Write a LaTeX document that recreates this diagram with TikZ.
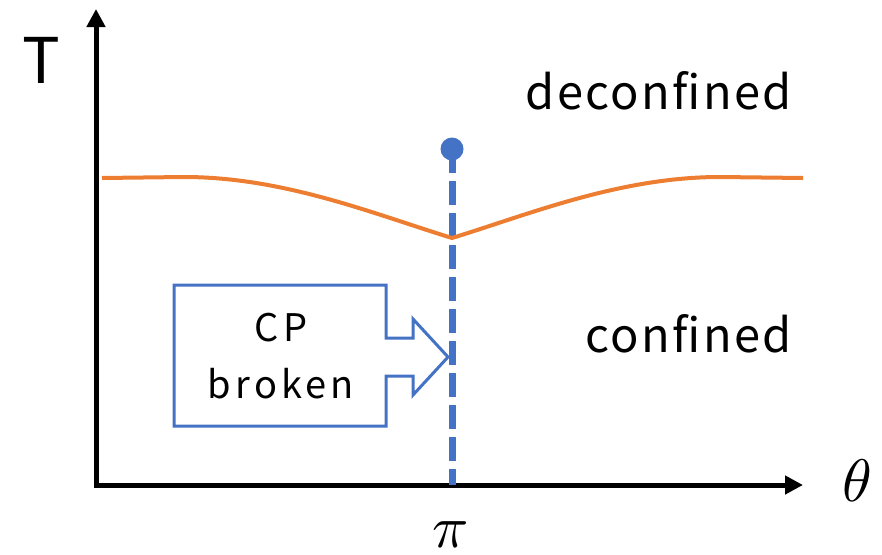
\documentclass[tikz,border=0pt]{standalone}
\usepackage{unicode-math}
\setmainfont{Noto Sans CJK JP}
\setmathfont{Latin Modern Math}
\newfontfamily\lblfont[LetterSpace=5]{Noto Sans CJK JP}
\newfontfamily\boxfont[LetterSpace=11]{Noto Sans CJK JP}
\usetikzlibrary{arrows.meta}
\definecolor{cblue}{HTML}{4472C4}
\definecolor{corange}{HTML}{ED7D31}
\tikzset{
  axis/.style={line width=5pt, line join=miter, {Triangle[width=18pt,length=18pt]}-{Triangle[width=18pt,length=18pt]}},
  critline/.style={cblue, line width=7pt, dash pattern=on 24pt off 8pt},
  phaseline/.style={corange, line width=4pt, line join=round},
  callout/.style={cblue, line width=3pt, line join=miter, fill=white},
  lbl/.style={inner sep=0pt, font=\lblfont\fontsize{47}{50}\selectfont},
  mathlbl/.style={inner sep=0pt, font=\fontsize{60}{60}\selectfont},
}
\begin{document}
\begin{tikzpicture}[x=1pt,y=-1pt]
\useasboundingbox (0,0) rectangle (882,554);
% axes
\coordinate (ytop) at (96,9);
\coordinate (origin) at (96,485);
\coordinate (xend) at (803,485);
\draw[axis] (ytop) -- (origin) -- (xend);
% critical line
\coordinate (cp) at (452,149);
\coordinate (pibase) at (452,485);
\draw[critline] (cp) -- (pibase);
\fill[cblue] (cp) circle (11.5pt);
% phase boundary
\coordinate (l0) at (102,178);
\coordinate (l1) at (184,177);
\coordinate (cusp) at (452,238);
\coordinate (r1) at (720,177);
\coordinate (r0) at (803,178);
\draw[phaseline] (l0) -- (l1) .. controls (284,177) and (374,214) .. (cusp)
  .. controls (530,214) and (620,177) .. (r1) -- (r0);
% callout
\draw[callout] (174,285) -- (386,285) -- (386,338) -- (413,338) -- (413,319)
  -- (448,357) -- (413,395) -- (413,376) -- (386,376) -- (386,426) -- (174,426) -- cycle;
\node[inner sep=0pt, font=\boxfont\fontsize{38}{57}\selectfont, align=center, anchor=base] (cpb) at (281,398) {CP\\broken};
% labels
\node[lbl, anchor=base east] (deconf) at (792,109) {deconfined};
\node[lbl, anchor=base east] (conf) at (792,352) {confined};
\node[inner sep=0pt, anchor=base, font=\fontsize{63}{66}\selectfont] (T) at (41,83) {T};
\node[mathlbl] (theta) at (857,481) {$\theta$};
\node[mathlbl, anchor=base] (pi) at (450,547) {\raisebox{0pt}[\height][0pt]{$\pi$}};
\end{tikzpicture}
\end{document}
